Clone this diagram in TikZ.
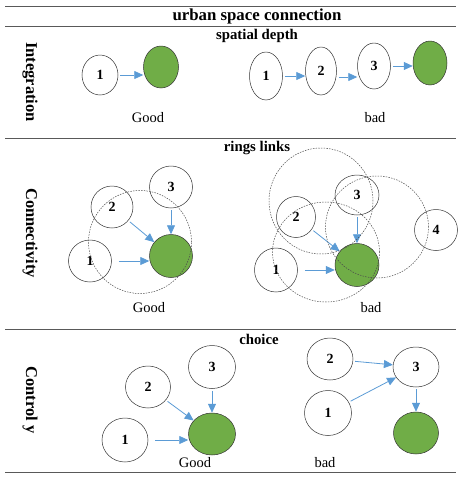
\documentclass[tikz,border=0pt]{standalone}
\usepackage{fontspec}
\setmainfont{Liberation Serif}
\usetikzlibrary{arrows.meta,shapes.geometric}
\definecolor{arrowblue}{HTML}{5B9BD5}
\definecolor{leafgreen}{HTML}{70AD47}
\begin{document}
\begin{tikzpicture}[x=1pt,y=-1pt,
  rule/.style={draw=black!65, line width=1pt},
  bubble/.style={ellipse, draw=black!80, line width=0.5pt, inner sep=0pt,
    font=\fontsize{14}{16}\selectfont\bfseries},
  target/.style={bubble, fill=leafgreen},
  flow/.style={draw=arrowblue, line width=0.8pt, -{Triangle[length=9pt,width=8pt]}, shorten <=2pt},
  ring/.style={draw=black!70, line width=0.5pt, dash pattern=on 1.5pt off 1.2pt},
  title/.style={font=\fontsize{16.8}{19}\selectfont\bfseries},
  subtitle/.style={font=\fontsize{14.8}{17}\selectfont\bfseries},
  rowlabel/.style={font=\fontsize{16.5}{19}\selectfont\bfseries, rotate=-90},
  verdict/.style={font=\fontsize{14.5}{17}\selectfont}]
\useasboundingbox (0,0) rectangle (470,480);

% rules
\coordinate (r1a) at (5,6);   \coordinate (r1b) at (456,6);
\coordinate (r2a) at (5,26);  \coordinate (r2b) at (456,26);
\coordinate (r3a) at (5,138); \coordinate (r3b) at (456,138);
\coordinate (r4a) at (5,329); \coordinate (r4b) at (456,329);
\coordinate (r5a) at (5,472); \coordinate (r5b) at (456,472);
\draw[rule] (r1a) -- (r1b);
\draw[rule] (r2a) -- (r2b);
\draw[rule] (r3a) -- (r3b);
\draw[rule] (r4a) -- (r4b);
\draw[rule] (r5a) -- (r5b);

% titles
\node[title] (ttl) at (257,16) {urban space connection};
\node[subtitle] (st1) at (257,36) {spatial depth};
\node[subtitle] (st2) at (257,148) {rings links};
\node[subtitle] (st3) at (259,339) {choice};
\node[rowlabel] (rl1) at (30,82) {Integration};
\node[rowlabel] (rl2) at (30,233) {Connectivity};
\node[rowlabel] (rl3) at (30,400) {Control y};

% Integration row
\node[bubble, minimum width=36pt, minimum height=40pt] (i1) at (100,75) {1};
\node[target, minimum width=35pt, minimum height=42pt] (ig) at (161,67) {};
\draw[flow] (i1.east) -- (i1 -| ig.west);
\node[verdict] (ig1) at (148,118) {Good};

\node[bubble, minimum width=33pt, minimum height=48pt] (b1) at (266,76) {1};
\node[bubble, minimum width=31pt, minimum height=48pt] (b2) at (321,71) {2};
\node[bubble, minimum width=33pt, minimum height=46pt] (b3) at (374,66) {3};
\node[target, minimum width=34pt, minimum height=44pt] (bg) at (430,63) {};
\draw[flow] (b1.east) -- (b1 -| b2.west);
\draw[flow] ([yshift=-6pt]b2.east) -- ([yshift=-6pt]b2.east -| b3.west);
\draw[flow] (b3.east) -- (b3 -| bg.west);
\node[verdict] (ib1) at (375,118) {bad};

% Connectivity row - good
\node[bubble, minimum width=43pt, minimum height=42pt] (c3) at (171,187) {3};
\node[bubble, minimum width=42pt, minimum height=42pt] (c2) at (112,207) {2};
\node[bubble, minimum width=43pt, minimum height=42pt] (c1) at (90,261) {1};
\node[target, minimum width=43pt, minimum height=43pt] (cg) at (171,256) {};
\draw[flow] (c3.south) -- (cg.north);
\draw[flow] (c2) -- (cg);
\draw[flow] ([xshift=5pt]c1.east) -- (c1 -| cg.west);
\node[ring, circle, minimum size=103pt] (cr1) at (140,242) {};
\node[verdict] (cv1) at (149,308) {Good};

% Connectivity row - bad
\node[bubble, minimum width=44pt, minimum height=40pt] (d3) at (357,195) {3};
\node[bubble, minimum width=39pt, minimum height=41pt] (d2) at (296,217) {2};
\node[bubble, minimum width=43pt, minimum height=44pt] (d1) at (276,270) {1};
\node[target, minimum width=44pt, minimum height=43pt] (dg) at (357,265) {};
\node[bubble, minimum width=43pt, minimum height=41pt] (d4) at (436,230) {4};
\draw[flow] (d3.south) -- (dg.north);
\draw[flow] (d2) -- (dg);
\draw[flow] ([xshift=5pt]d1.east) -- (d1 -| dg.west);
\node[ring, ellipse, minimum width=104pt, minimum height=106pt] (dr1) at (321,201) {};
\node[ring, ellipse, minimum width=103pt, minimum height=102pt] (dr2) at (377,227) {};
\node[ring, ellipse, minimum width=107pt, minimum height=100pt] (dr3) at (326,252) {};
\node[verdict] (dv1) at (371,308) {bad};

% Control row - good
\node[bubble, minimum width=47pt, minimum height=43pt] (k3) at (212,367) {3};
\node[bubble, minimum width=45pt, minimum height=42pt] (k2) at (148,387) {2};
\node[bubble, minimum width=46pt, minimum height=44pt] (k1) at (125,440) {1};
\node[target, minimum width=47pt, minimum height=42pt] (kg) at (212,434) {};
\draw[flow] (k3.south) -- (kg.north);
\draw[flow] (k2) -- (kg);
\draw[flow] ([xshift=5pt]k1.east) -- (k1 -| kg.west);
\node[verdict] (kv1) at (195,463) {Good};

% Control row - bad
\node[bubble, minimum width=46pt, minimum height=42pt] (m2) at (330,359) {2};
\node[bubble, minimum width=46pt, minimum height=40pt] (m3) at (416,367) {3};
\node[bubble, minimum width=47pt, minimum height=45pt] (m1) at (328,413) {1};
\node[target, minimum width=45pt, minimum height=42pt] (mg) at (416,433) {};
\draw[flow] (m2) -- (m3);
\draw[flow] (m1) -- (m3);
\draw[flow] (m3.south) -- (mg.north);
\node[verdict] (mv1) at (325,463) {bad};
\end{tikzpicture}
\end{document}
